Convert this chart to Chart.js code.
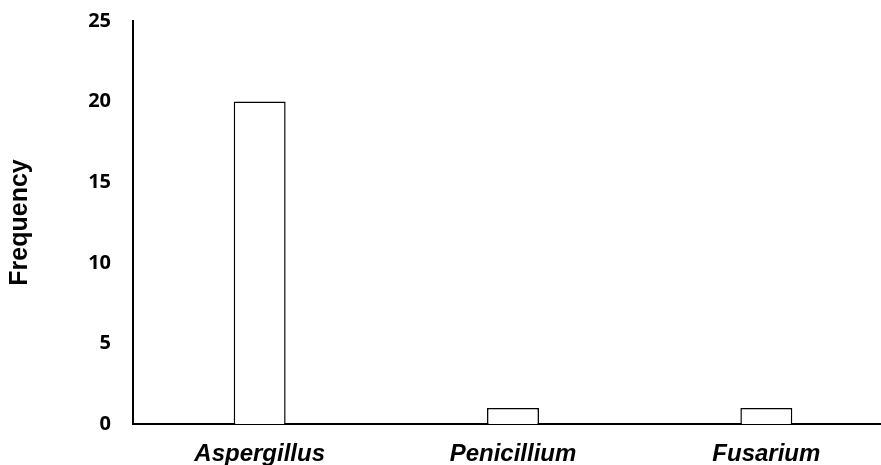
<!DOCTYPE html>
<html>
<head>
<meta charset="utf-8">
<script src="https://cdn.jsdelivr.net/npm/chart.js@4"></script>
<style>
  body { margin: 0; overflow: hidden; background: #fff; }
</style>
</head>
<body>
<canvas id="chart" width="893" height="465"></canvas>
<script>
const genera = ["Aspergillus", "Penicillium", "Fusarium"];
const frequency = [20, 1, 1];
const yTicks = [0, 5, 10, 15, 20, 25];

const data = {
  labels: genera,
  datasets: [
    {
      label: "Frequency",
      data: frequency,
      backgroundColor: "#ffffff",
      borderColor: "#000000",
      borderWidth: 1.5,
      barPercentage: 0.205,
      categoryPercentage: 1
    }
  ]
};

const config = {
  type: "bar",
  data: data,
  options: {
    responsive: false,
    animation: false,
    layout: { padding: { top: 21, left: 0, right: 0, bottom: 0 } },
    plugins: { legend: { display: false }, tooltip: { enabled: false } },
    scales: {
      x: {
        grid: { display: false, drawTicks: false },
        border: { color: "#000", width: 2 },
        ticks: {
          color: "#000",
          padding: 16,
          font: { family: "Liberation Sans", size: 24, weight: "bold", style: "italic" }
        },
        afterFit: (scale) => { scale.height = 41; }
      },
      y: {
        min: 0,
        max: 25,
        grid: { display: false, drawTicks: false },
        border: { color: "#000", width: 2 },
        afterBuildTicks: (scale) => { scale.ticks = yTicks.map(v => ({ value: v })); },
        ticks: {
          color: "#000",
          padding: 22,
          font: { family: "Open Sans", size: 20, weight: "bold" }
        },
        title: {
          display: true,
          text: "Frequency",
          color: "#000",
          padding: { top: 5, bottom: 0 },
          font: { family: "Liberation Sans", size: 25, weight: "bold" }
        },
        afterFit: (scale) => {
          scale.width = 133;
          scale.paddingTop = 0;
          scale.paddingBottom = 0;
        }
      }
    }
  }
};

const myChart = new Chart(document.getElementById("chart"), config);
</script>
</body>
</html>
